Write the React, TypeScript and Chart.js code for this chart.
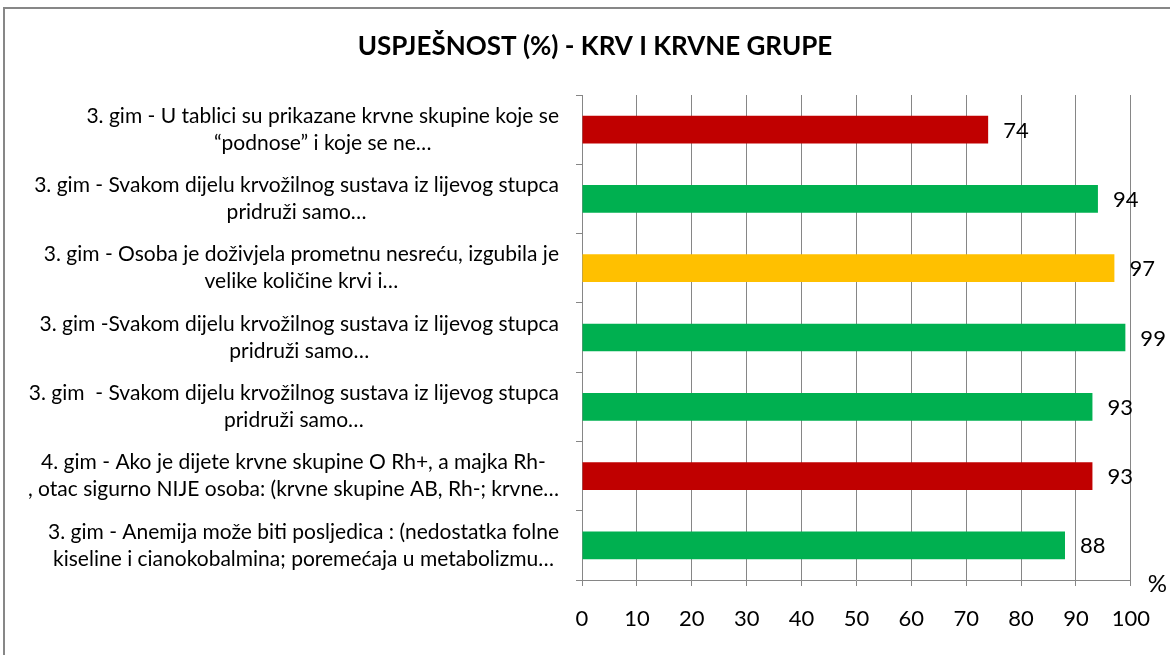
import React, { useEffect, useRef } from 'react';
import { Chart, registerables } from 'chart.js';

Chart.register(...registerables);

const TITLE = 'USPJEŠNOST (%) - KRV I KRVNE GRUPE';
const UNIT = '%';

const categories: string[][] = [
  ['3. gim - U tablici su prikazane krvne skupine koje se', '“podnose” i koje se ne…'],
  ['3. gim - Svakom dijelu krvožilnog sustava iz lijevog stupca', 'pridruži samo…'],
  ['3. gim - Osoba je doživjela prometnu nesreću, izgubila je', 'velike količine krvi i…'],
  ['3. gim -Svakom dijelu krvožilnog sustava iz lijevog stupca', 'pridruži samo…'],
  ['3. gim  - Svakom dijelu krvožilnog sustava iz lijevog stupca', 'pridruži samo…'],
  ['4. gim - Ako je dijete krvne skupine O Rh+, a majka Rh-', ', otac sigurno NIJE osoba: (krvne skupine AB, Rh-; krvne…'],
  ['3. gim - Anemija može biti posljedica : (nedostatka folne', 'kiseline i cianokobalmina; poremećaja u metabolizmu…'],
];

const values: number[] = [74, 94, 97, 99, 93, 93, 88];

const barColors: string[] = ['#C00000', '#00B050', '#FFC000', '#00B050', '#00B050', '#C00000', '#00B050'];

const xMin = 0;
const xMax = 100;
const xStep = 10;

const FONT = 'Lato, "Open Sans", sans-serif';
const GRID = '#868686';

const textPlugin = {
  id: 'customTexts',
  beforeDraw(chart: any) {
    const ctx = chart.ctx;
    ctx.save();
    ctx.fillStyle = '#ffffff';
    ctx.fillRect(0, 0, chart.width, chart.height);
    ctx.strokeStyle = '#878787';
    ctx.lineWidth = 2;
    ctx.strokeRect(4, 8, chart.width + 20, chart.height + 20);
    ctx.restore();
  },
  afterDraw(chart: any) {
    const ctx = chart.ctx;
    const yScale = chart.scales.y;
    const area = chart.chartArea;
    ctx.save();
    ctx.fillStyle = '#000000';
    ctx.textBaseline = 'middle';

    // title
    ctx.font = `bold 26px ${FONT}`;
    ctx.textAlign = 'center';
    ctx.fillText(TITLE, 595, 47);

    // category labels
    ctx.font = `21px ${FONT}`;
    const lh = 27;
    categories.forEach((lines, i) => {
      const cy = yScale.getPixelForValue(i);
      const widest = Math.max(...lines.map((l) => ctx.measureText(l).width));
      const cx = area.left - 23 - widest / 2;
      lines.forEach((l, j) => {
        ctx.fillText(l, cx, cy + (j - (lines.length - 1) / 2) * lh);
      });
    });

    // value labels
    ctx.font = `22px ${FONT}`;
    ctx.textAlign = 'left';
    const meta = chart.getDatasetMeta(0);
    meta.data.forEach((bar: any, i: number) => {
      ctx.fillText(String(values[i]), bar.x + 15, bar.y + 1);
    });

    // unit
    ctx.font = `24px ${FONT}`;
    ctx.fillText(UNIT, area.right + 17, area.bottom + 4);
    ctx.restore();
  },
};

export default function App() {
  const ref = useRef<HTMLCanvasElement | null>(null);

  useEffect(() => {
    document.body.style.margin = '0';
    if (!ref.current) return;
    const chart = new Chart(ref.current, {
      type: 'bar',
      data: {
        labels: categories.map((c) => c.join(' ')),
        datasets: [
          {
            data: values,
            backgroundColor: barColors,
            borderWidth: 0,
            barPercentage: 0.4,
            categoryPercentage: 1,
          },
        ],
      },
      options: {
        indexAxis: 'y',
        responsive: false,
        animation: false,
        devicePixelRatio: 1,
        layout: { padding: { top: 95, right: 34, bottom: 0, left: 0 } },
        plugins: {
          legend: { display: false },
          title: { display: false },
          tooltip: { enabled: false },
        },
        scales: {
          x: {
            min: xMin,
            max: xMax,
            ticks: {
              stepSize: xStep,
              color: '#000',
              font: { family: FONT, size: 22 },
              padding: 20,
            },
            grid: { color: GRID, tickLength: 6, drawTicks: true },
            border: { color: GRID, width: 1 },
            afterFit(scale: any) {
              scale.height = 75;
            },
          },
          y: {
            ticks: { display: false },
            grid: { drawOnChartArea: false, drawTicks: true, tickLength: 6, color: GRID, offset: true },
            border: { color: GRID, width: 1 },
            afterFit(scale: any) {
              scale.width = 582;
            },
          },
        },
      },
      plugins: [textPlugin],
    });
    return () => chart.destroy();
  }, []);

  return (
    <div style={{ width: 1170, height: 655 }}>
      <canvas ref={ref} width={1170} height={655} style={{ display: 'block' }} />
    </div>
  );
}
